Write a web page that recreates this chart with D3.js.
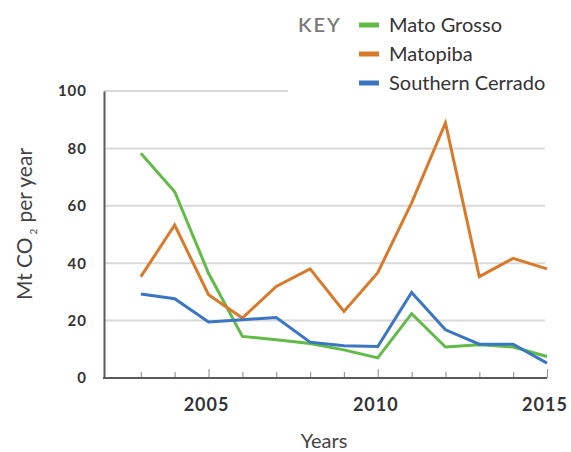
<!DOCTYPE html>
<html>
<head>
<meta charset="utf-8">
<script src="https://cdn.jsdelivr.net/npm/d3@7/dist/d3.min.js"></script>
<style>
  html, body { margin: 0; padding: 0; background: #fff; }
  svg { display: block; font-family: Lato, "Open Sans", sans-serif; }
</style>
</head>
<body>
<svg id="chart" width="571" height="452"></svg>
<script>
const years = [2003, 2004, 2005, 2006, 2007, 2008, 2009, 2010, 2011, 2012, 2013, 2014, 2015];
const matoGrosso = [78.3, 64.9, 36.5, 14.5, 13.3, 12.0, 9.8, 7.0, 22.4, 10.8, 11.6, 10.8, 7.5];
const matopiba = [35.3, 53.3, 29.0, 20.9, 31.9, 38.0, 23.2, 36.7, 61.0, 88.9, 35.3, 41.7, 38.0];
const southernCerrado = [29.3, 27.6, 19.5, 20.3, 21.1, 12.5, 11.2, 11.0, 29.8, 16.8, 11.8, 11.8, 5.2];
const seriesNames = ["Mato Grosso", "Matopiba", "Southern Cerrado"];
const seriesColors = ["#62bb47", "#d97a2b", "#3b76c2"];
const yTicks = [0, 20, 40, 60, 80, 100];
const xTickYears = [2003, 2004, 2005, 2006, 2007, 2008, 2009, 2010, 2011, 2012, 2013, 2014, 2015];
const xLabelYears = [2005, 2010, 2015];

const series = [matoGrosso, matopiba, southernCerrado];

const svg = d3.select("#chart");
const axisX0 = 104;
const x = d3.scaleLinear().domain([2002, 2015]).range([107, 547]);
const y = d3.scaleLinear().domain([0, 100]).range([378, 91]);

// gridlines
svg.append("g").selectAll("line")
  .data(yTicks.filter(d => d > 0))
  .join("line")
  .attr("x1", axisX0)
  .attr("x2", d => d === 100 ? 288 : 545)
  .attr("y1", d => y(d)).attr("y2", d => y(d))
  .attr("stroke", "#d9d9d9").attr("stroke-width", 2);

// y axis
const yAxis = svg.append("g").attr("transform", `translate(${axisX0},0)`)
  .call(d3.axisLeft(y).tickValues(yTicks).tickSize(0).tickPadding(17));
yAxis.select(".domain").attr("stroke", "#5a5a5a").attr("stroke-width", 2);
yAxis.selectAll("text")
  .attr("font-family", "Lato, sans-serif")
  .attr("font-size", 15).attr("font-weight", 700)
  .attr("letter-spacing", 1)
  .attr("fill", "#333");

// x axis ticks (inside, pointing up)
const xAxis = svg.append("g").attr("transform", `translate(0,${y(0)})`)
  .call(d3.axisBottom(x).tickValues(xTickYears).tickSize(0).tickFormat(""));
xAxis.select(".domain").remove();
xAxis.selectAll(".tick line")
  .attr("y2", d => xLabelYears.includes(d) ? -9 : -6)
  .attr("stroke", "#9a9a9a").attr("stroke-width", 1.2);
svg.append("line")
  .attr("x1", axisX0 - 1).attr("x2", x(2015))
  .attr("y1", y(0)).attr("y2", y(0))
  .attr("stroke", "#5a5a5a").attr("stroke-width", 2);

// x labels
svg.append("g").selectAll("text")
  .data(xLabelYears)
  .join("text")
  .attr("x", d => x(d) - 2).attr("y", 411)
  .attr("text-anchor", "middle")
  .attr("font-size", 18).attr("font-weight", 700)
  .attr("letter-spacing", 1)
  .attr("fill", "#333")
  .text(d => d);

// axis titles
svg.append("text")
  .attr("x", 324).attr("y", 448)
  .attr("text-anchor", "middle")
  .attr("font-size", 20).attr("fill", "#444")
  .text("Years");

const yt = svg.append("text")
  .attr("transform", "translate(32,224) rotate(-90)")
  .attr("text-anchor", "middle")
  .attr("font-size", 21).attr("fill", "#444");
yt.append("tspan").text("Mt CO");
yt.append("tspan").attr("font-size", 10).attr("dy", 5).attr("dx", 3).text("2");
yt.append("tspan").attr("dy", -5).attr("dx", 6).text("per year");

// lines
const line = d3.line().x((d, i) => x(years[i])).y(d => y(d));
svg.append("g").selectAll("path")
  .data(series)
  .join("path")
  .attr("d", d => line(d))
  .attr("fill", "none")
  .attr("stroke", (d, i) => seriesColors[i])
  .attr("stroke-width", 3)
  .attr("stroke-linejoin", "miter");

// legend
const lg = svg.append("g");
lg.append("rect").attr("x", 290).attr("y", 0).attr("width", 281).attr("height", 98).attr("fill", "#fff");
lg.append("text").attr("x", 298).attr("y", 32)
  .attr("font-size", 20).attr("font-weight", 600)
  .attr("letter-spacing", 2).attr("fill", "#7a7a7a").text("KEY");
const items = lg.selectAll("g.item").data(seriesNames).join("g")
  .attr("class", "item")
  .attr("transform", (d, i) => `translate(0,${25 + i * 29})`);
items.append("line").attr("x1", 359).attr("x2", 379).attr("y1", 0).attr("y2", 0)
  .attr("stroke", (d, i) => seriesColors[i]).attr("stroke-width", 5);
items.append("text").attr("x", 389).attr("y", 7)
  .attr("font-size", 20).attr("fill", "#333").text(d => d);
</script>
</body>
</html>
